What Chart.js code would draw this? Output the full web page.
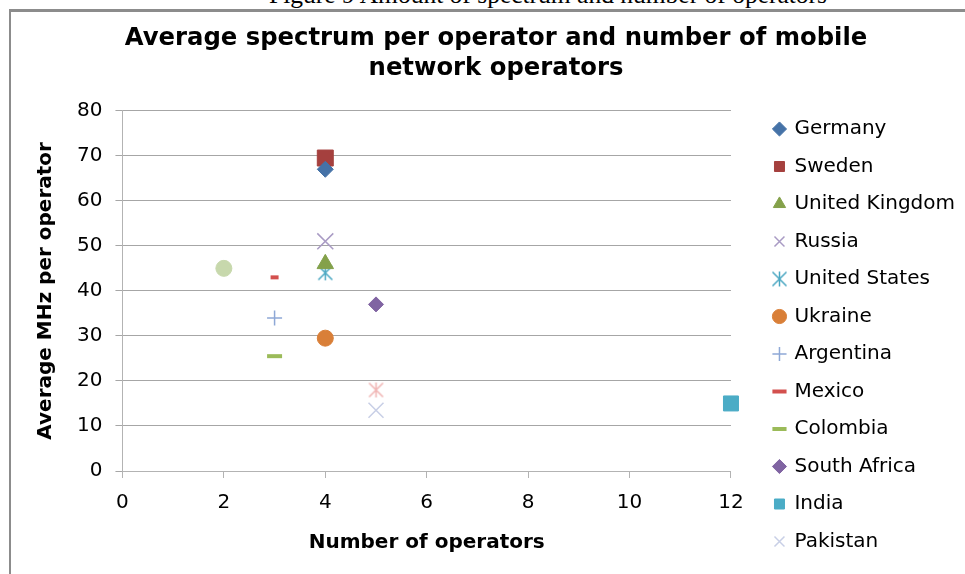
<!DOCTYPE html>
<html>
<head>
<meta charset="utf-8">
<script src="https://cdn.jsdelivr.net/npm/chart.js@4.4.1/dist/chart.umd.min.js"></script>
<style>
  html, body { margin: 0; padding: 0; background: #fff; overflow: hidden; }
  body { width: 965px; height: 574px; position: relative; }
  #caption {
    position: absolute; left: 0; top: -17px; width: 1096px;
    text-align: center; white-space: nowrap;
    font: 25.5px/24px "Liberation Serif", "Times New Roman", serif; color: #000;
  }
  #frame {
    position: absolute; left: 9px; top: 9px; width: 1000px; height: 600px;
    border-top: 3px solid #8c8c8c; border-left: 2px solid #8c8c8c;
  }
  #chart { position: absolute; left: 0; top: 0; }
</style>
</head>
<body>
<div id="caption">Figure 9 Amount of spectrum and number of operators</div>
<div id="frame">
  <canvas id="chart" width="970" height="562"></canvas>
</div>
<script>
// series (one point each)
const countries = ["Germany", "Sweden", "United Kingdom", "Russia", "United States", "Ukraine",
  "Argentina", "Mexico", "Colombia", "South Africa", "India", "Pakistan", "Series 13", "Series 14"];
const operators = [4, 4, 4, 4, 4, 4, 3, 3, 3, 5, 12, 5, 2, 5];
const mhzPerOperator = [67, 69.5, 46, 51, 44, 29.5, 34, 43, 25.5, 37, 15, 13.5, 45, 18];
const legendCount = 12; // last two series are not in the legend

const xTicks = [0, 2, 4, 6, 8, 10, 12];
const yTicks = [0, 10, 20, 30, 40, 50, 60, 70, 80];

const font = "'DejaVu Sans', Verdana, sans-serif";

// asterisk marker (vertical bar + X)
function asterisk(color) {
  const c = document.createElement("canvas");
  c.width = 17; c.height = 17;
  const g = c.getContext("2d");
  g.strokeStyle = color;
  g.lineWidth = 1.5;
  g.beginPath();
  g.moveTo(8.5, 1); g.lineTo(8.5, 16);
  g.moveTo(1.5, 1.5); g.lineTo(15.5, 15.5);
  g.moveTo(15.5, 1.5); g.lineTo(1.5, 15.5);
  g.stroke();
  return c;
}

// marker style per series
const markers = [
  { style: "rectRot", color: "#4572A7", r: 8, fill: true },
  { style: "rect", color: "#A5403E", r: 11.3, fill: true },
  { style: "triangle", color: "#84A14A", r: 9.5, fill: true },
  { style: "crossRot", color: "#A99BC4", r: 11.3, w: 1.5 },
  { style: asterisk("#4BA8C2"), color: "#4BA8C2", r: 8 },
  { style: "circle", color: "#D97F38", r: 8, fill: true },
  { style: "cross", color: "#8EA8D6", r: 7.5, w: 1.5 },
  { style: "line", color: "#D3504E", r: 4, w: 4 },
  { style: "line", color: "#9BBB59", r: 7.5, w: 4 },
  { style: "rectRot", color: "#8064A2", r: 7.5, fill: true },
  { style: "rect", color: "#4BACC6", r: 10.6, fill: true },
  { style: "crossRot", color: "#C8CFE6", r: 10.6, w: 1.5 },
  { style: "circle", color: "#C7D8AC", r: 8, fill: true },
  { style: asterisk("#F0B4B3"), color: "#F0B4B3", r: 8 }
];

const datasets = countries.map((name, i) => ({
  label: name,
  data: [{ x: operators[i], y: mhzPerOperator[i] }],
  pointStyle: markers[i].style,
  pointRadius: markers[i].r,
  backgroundColor: markers[i].fill ? markers[i].color : "rgba(0,0,0,0)",
  borderColor: markers[i].color,
  borderWidth: markers[i].w || 1,
  clip: false
}));

Chart.defaults.font.family = font;
Chart.defaults.color = "#000";

new Chart(document.getElementById("chart"), {
  type: "scatter",
  data: { datasets },
  options: {
    responsive: false,
    animation: false,
    devicePixelRatio: 1,
    events: [],
    layout: { padding: { left: 16, right: 16, top: 0, bottom: 5 } },
    plugins: {
      title: {
        display: true,
        text: ["Average spectrum per operator and number of mobile", "network operators"],
        font: { size: 24.3, weight: "bold", lineHeight: 1.25 },
        color: "#000",
        padding: { top: 11, bottom: 27 }
      },
      legend: {
        position: "right",
        align: "end",
        maxWidth: 300,
        labels: {
          usePointStyle: true,
          boxWidth: 10,
          boxHeight: 10,
          padding: 17.5,
          font: { size: 20 },
          color: "#000",
          filter: item => item.datasetIndex < legendCount
        }
      },
      tooltip: { enabled: false }
    },
    scales: {
      x: {
        type: "linear",
        min: xTicks[0],
        max: xTicks[xTicks.length - 1],
        afterBuildTicks: s => { s.ticks = xTicks.map(v => ({ value: v })); },
        ticks: { padding: 13, font: { size: 20 }, color: "#000" },
        grid: { drawOnChartArea: false, tickLength: 7, color: "#b3b3b3" },
        border: { color: "#b3b3b3" },
        title: {
          display: true, text: "Number of operators",
          font: { size: 20, weight: "bold" }, color: "#000",
          padding: { top: 3, bottom: 14 }
        }
      },
      y: {
        type: "linear",
        min: yTicks[0],
        max: yTicks[yTicks.length - 1],
        afterBuildTicks: s => { s.ticks = yTicks.map(v => ({ value: v })); },
        ticks: { padding: 13, font: { size: 20 }, color: "#000" },
        grid: { tickLength: 7, color: "#a6a6a6" },
        border: { color: "#b3b3b3" },
        title: {
          display: true, text: "Average MHz per operator",
          font: { size: 20, weight: "bold" }, color: "#000",
          padding: { top: 7, bottom: 6 }
        }
      },
      // empty spacer between plot and legend
      gap: {
        type: "linear",
        position: "right",
        display: true,
        ticks: { display: false },
        grid: { display: false, drawTicks: false },
        border: { display: false },
        afterFit: s => { s.width = 26; }
      }
    }
  }
});
</script>
</body>
</html>
